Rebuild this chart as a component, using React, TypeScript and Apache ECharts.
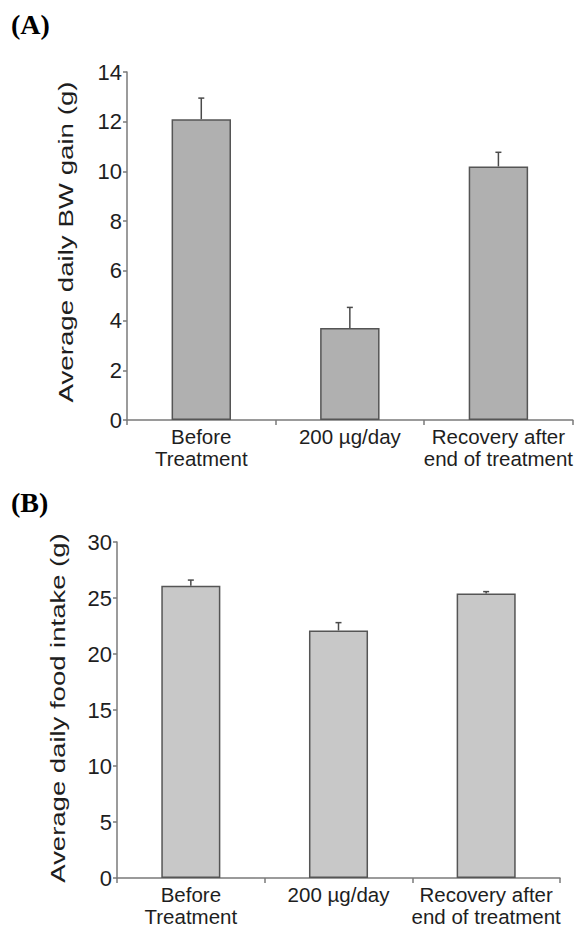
import React, { useEffect, useRef } from "react";
import * as echarts from "echarts";

const categories = ["Before\nTreatment", "200 µg/day", "Recovery after\nend of treatment"];
const bwGain = [12.1, 3.7, 10.2];
const bwGainErr = [0.85, 0.83, 0.57];
const foodIntake = [26.1, 22.1, 25.4];
const foodIntakeErr = [0.5, 0.7, 0.17];
const bwTicks = { min: 0, max: 14, interval: 2 };
const foodTicks = { min: 0, max: 30, interval: 5 };
const titleA = "Average daily BW gain (g)";
const titleB = "Average daily food intake (g)";

const axisColor = "#7a7a7a";
const textColor = "#1e1e1e";
const font = "'Liberation Sans', Arial, sans-serif";

function errorRender(params: any, api: any) {
  const x = api.value(0);
  const v = api.value(1);
  const e = api.value(2);
  const p0 = api.coord([x, v]);
  const p1 = api.coord([x, v + e]);
  const style = { stroke: "#4a4a4a", lineWidth: 1.5 };
  return {
    type: "group",
    children: [
      { type: "line", shape: { x1: p0[0], y1: p0[1], x2: p1[0], y2: p1[1] }, style },
      { type: "line", shape: { x1: p1[0] - 3, y1: p1[1], x2: p1[0] + 3, y2: p1[1] }, style },
    ],
  };
}

export default function App() {
  const ref = useRef<HTMLDivElement>(null);
  useEffect(() => {
    if (!ref.current) return;
    const chart = echarts.init(ref.current, null, { renderer: "svg" });
    const xAxisBase = (gridIndex: number) => ({
      type: "category",
      gridIndex,
      data: categories,
      axisLine: { lineStyle: { color: axisColor, width: 1.5 } },
      axisTick: { show: true, alignWithLabel: false, length: 5, lineStyle: { color: axisColor, width: 1.5 } },
      axisLabel: {
        interval: 0,
        color: textColor,
        fontSize: 20.5,
        fontFamily: font,
        lineHeight: 22,
        margin: 5,
      },
    });
    const yAxisBase = (gridIndex: number, t: any) => ({
      type: "value",
      gridIndex,
      min: t.min,
      max: t.max,
      interval: t.interval,
      splitLine: { show: false },
      axisLine: { show: true, lineStyle: { color: axisColor, width: 1.5 } },
      axisTick: { show: true, length: 4, lineStyle: { color: axisColor, width: 1.5 } },
      axisLabel: { color: textColor, fontSize: 22, fontFamily: font, margin: 5 },
    });
    chart.setOption({
      animation: false,
      backgroundColor: "#ffffff",
      grid: [
        { left: 127, right: 3, top: 72, height: 348 },
        { left: 117, right: 16, top: 542, height: 337 },
      ],
      xAxis: [xAxisBase(0), xAxisBase(1)],
      yAxis: [yAxisBase(0, bwTicks), yAxisBase(1, foodTicks)],
      graphic: [
        {
          type: "text",
          left: 11,
          top: 10,
          style: { text: "(A)", fontSize: 28, fontWeight: "bold", fontFamily: "'Liberation Serif', 'Times New Roman', serif", fill: "#000" },
        },
        {
          type: "text",
          left: 11,
          top: 488,
          style: { text: "(B)", fontSize: 28, fontWeight: "bold", fontFamily: "'Liberation Serif', 'Times New Roman', serif", fill: "#000" },
        },
        {
          type: "text",
          x: 66,
          y: 242,
          rotation: Math.PI / 2,
          scaleX: 1.42,
          scaleY: 1.05,
          style: { text: titleA, fontSize: 19.5, fontFamily: font, fill: textColor, align: "center", verticalAlign: "middle" },
        },
        {
          type: "text",
          x: 58,
          y: 708,
          rotation: Math.PI / 2,
          scaleX: 1.41,
          scaleY: 1.05,
          style: { text: titleB, fontSize: 19.5, fontFamily: font, fill: textColor, align: "center", verticalAlign: "middle" },
        },
      ],
      series: [
        {
          type: "bar",
          xAxisIndex: 0,
          yAxisIndex: 0,
          data: bwGain,
          barWidth: "40%",
          itemStyle: { color: "#b0b0b0", borderColor: "#555555", borderWidth: 1.5 },
        },
        {
          type: "custom",
          xAxisIndex: 0,
          yAxisIndex: 0,
          renderItem: errorRender,
          data: bwGain.map((v, i) => [i, v, bwGainErr[i]]),
          z: 3,
        },
        {
          type: "bar",
          xAxisIndex: 1,
          yAxisIndex: 1,
          data: foodIntake,
          barWidth: "40%",
          itemStyle: { color: "#c8c8c8", borderColor: "#555555", borderWidth: 1.5 },
        },
        {
          type: "custom",
          xAxisIndex: 1,
          yAxisIndex: 1,
          renderItem: errorRender,
          data: foodIntake.map((v, i) => [i, v, foodIntakeErr[i]]),
          z: 3,
        },
      ],
    });
    return () => chart.dispose();
  }, []);
  return (
    <div
      ref={ref}
      style={{ position: "absolute", left: 0, top: 0, width: 576, height: 927 }}
    />
  );
}
